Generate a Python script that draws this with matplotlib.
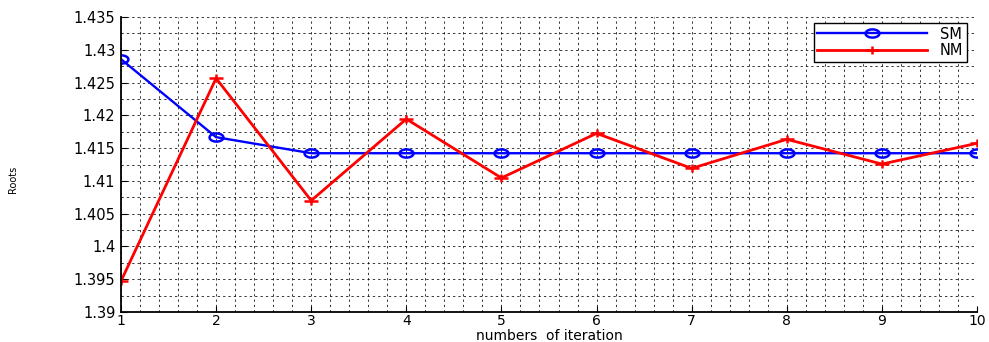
import numpy as np
import matplotlib.pyplot as plt
from matplotlib.path import Path
from matplotlib.ticker import MultipleLocator

# iteration number and roots of the two methods
iters = [1, 2, 3, 4, 5, 6, 7, 8, 9, 10]
sm_roots = [1.42857, 1.41667, 1.41422, 1.41422, 1.41422, 1.41422, 1.41422, 1.41422, 1.41422, 1.41422]
nm_roots = [1.3947, 1.42565, 1.40700, 1.41944, 1.41045, 1.41725, 1.41191, 1.41634, 1.41257, 1.41573]
ytick_labels = ['1.39', '1.395', '1.4', '1.405', '1.41', '1.415',
                '1.42', '1.425', '1.43', '1.435']

plt.rcParams['font.family'] = ['DejaVu Sans']

# markers look stretched sideways in the original
t = np.linspace(0, 2 * np.pi, 60)
ellipse = Path(np.column_stack([1.7 * np.cos(t), np.sin(t)]))
plus = Path([(-1.7, 0), (1.7, 0), (0, -1), (0, 1)],
            [Path.MOVETO, Path.LINETO, Path.MOVETO, Path.LINETO])

fig = plt.figure(figsize=(9.89, 3.42), dpi=100)
ax = fig.add_axes([0.1223, 0.0877, 0.8656, 0.8626])

ax.plot(iters, sm_roots, color='blue', lw=1.7, marker=ellipse, ms=10,
        mfc='none', mec='blue', mew=1.8, label='SM')
ax.plot(iters, nm_roots, color='red', lw=2.0, marker=plus, ms=10,
        mec='red', mew=1.8, label='NM')

ax.set_xlim(1, 10)
ax.set_ylim(1.39, 1.435)
ax.xaxis.set_major_locator(MultipleLocator(1))
ax.xaxis.set_minor_locator(MultipleLocator(0.2))
ax.set_yticks(np.arange(1.39, 1.4351, 0.005))
ax.set_yticklabels(ytick_labels)
ax.yaxis.set_minor_locator(MultipleLocator(0.0025))

ax.grid(True, which='both', color='black', linestyle=(0, (3, 4)), lw=0.55)
ax.tick_params(which='both', direction='in', labelsize=10.5, pad=4)
ax.tick_params(axis='x', pad=1.5, labelsize=10)
ax.tick_params(which='minor', length=0)
ax.tick_params(which='major', length=4, top=False, right=False)

ax.spines['top'].set_visible(False)
ax.spines['right'].set_visible(False)
ax.spines['left'].set_linewidth(1.3)
ax.spines['bottom'].set_linewidth(1.3)

ax.set_xlabel('numbers  of iteration', fontsize=10)
ax.xaxis.set_label_coords(0.5, -0.058)
fig.text(0.013, 0.475, 'Roots', rotation=90, fontsize=7, ha='center', va='center')

leg = ax.legend(loc='upper right', bbox_to_anchor=(0.9883, 0.98), borderaxespad=0,
                fontsize=10.5, fancybox=False, framealpha=1, edgecolor='black',
                handlelength=7.5, handletextpad=0.9, borderpad=0.25, labelspacing=0.1)
leg.get_frame().set_linewidth(1.0)

fig.savefig('out.png', dpi=100)
